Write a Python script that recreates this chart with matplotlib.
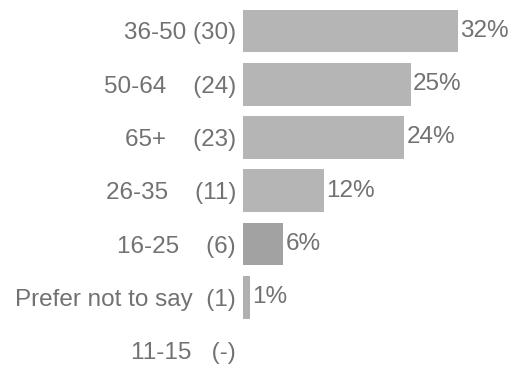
import matplotlib
matplotlib.use("Agg")
import matplotlib.pyplot as plt

categories = ["36-50", "50-64", "65+", "26-35", "16-25", "Prefer not to say", "11-15"]
counts = ["(30)", "(24)", "(23)", "(11)", "(6)", "(1)", "(-)"]
percents = [32, 25, 24, 12, 6, 1, 0]
pct_labels = ["32%", "25%", "24%", "12%", "6%", "1%", ""]

# layout / style (not data)
gaps = [1, 4, 4, 4, 4, 2, 3]
bar_colors = ["#b5b5b5", "#b5b5b5", "#b5b5b5", "#b5b5b5", "#a2a2a2", "#b0b0b0", "#b5b5b5"]
text_color = "#727272"
fs = 17.5

plt.rcParams["font.family"] = ["Liberation Sans", "DejaVu Sans"]

fig = plt.figure(figsize=(5.10, 3.65), dpi=100)
ax = fig.add_axes([243 / 510, 0.0, 267 / 510, 1.0])

y = list(range(len(categories)))
ax.barh(y, percents, height=0.8, color=bar_colors, edgecolor="none")

ax.set_xlim(0, 267 / 6.72)
ax.set_ylim(6.27, -0.58)

labels = [c + " " * g + n for c, g, n in zip(categories, gaps, counts)]
ax.set_yticks(y)
ax.set_yticklabels(labels, fontsize=fs, color=text_color)
ax.tick_params(axis="y", length=0, pad=5)
ax.set_xticks([])
for s in ax.spines.values():
    s.set_visible(False)

for yi, v, t in zip(y, percents, pct_labels):
    if t:
        ax.annotate(t, xy=(v, yi), xytext=(1.5, 0), textcoords="offset points",
                    ha="left", va="center", fontsize=fs, color=text_color)

fig.savefig("out.png", dpi=100)
